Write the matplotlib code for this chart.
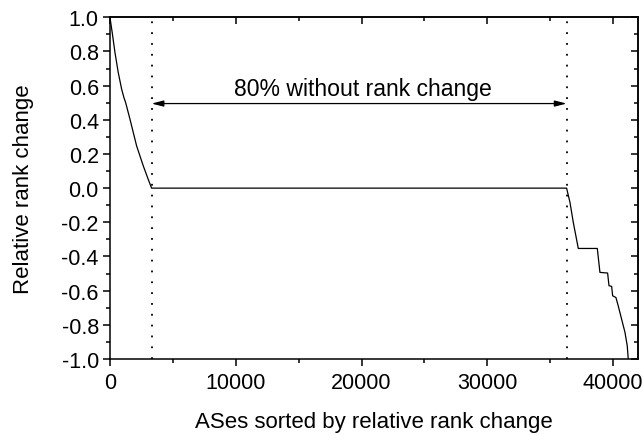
import numpy as np
import matplotlib
matplotlib.use("Agg")
import matplotlib.pyplot as plt
from matplotlib.ticker import MultipleLocator, FormatStrFormatter

plt.rcParams["font.family"] = ["Liberation Sans", "DejaVu Sans"]
plt.rcParams["axes.unicode_minus"] = False

# ASes sorted by relative rank change
as_index = [0, 180, 400, 660, 930, 1110, 1250, 1590, 2120, 2650, 3000, 3310,
            36300, 36570, 36830, 37230, 38740, 38950, 39560, 39670, 39880,
            39960, 40220, 40400, 40670, 40940, 41120, 41200]
rank_change = [1.0, 0.91, 0.793, 0.676, 0.579, 0.53, 0.50, 0.404, 0.247, 0.13, 0.06, 0.0,
               0.0, -0.084, -0.20, -0.353, -0.353, -0.493, -0.497, -0.571, -0.575,
               -0.63, -0.64, -0.688, -0.766, -0.844, -0.922, -1.0]

# boundaries of the "no rank change" region
no_change_start = 3310
no_change_end = 36300
arrow_y = 0.495
label_text = "80% without rank change"

fig = plt.figure(figsize=(6.43, 4.35), dpi=100)
ax = fig.add_axes([0.171, 0.1724, 0.8217, 0.7856])

ax.plot(as_index, rank_change, color="black", linewidth=0.9)

for xv in [no_change_start, no_change_end]:
    ax.plot([xv, xv], [-1.0, 1.0], color="black", linewidth=1.3,
            linestyle=(0, (1, 5)))

ax.annotate("", xy=(no_change_start, arrow_y), xytext=(no_change_end, arrow_y),
            arrowprops=dict(arrowstyle="<|-|>,head_length=0.7,head_width=0.18",
                            color="black", lw=0.9, shrinkA=0, shrinkB=0))
ax.text((no_change_start + no_change_end) / 2 + 300, arrow_y + 0.02, label_text,
        ha="center", va="bottom", fontsize=16.6)

ax.set_xlim(0, 42000)
ax.set_ylim(-1.0, 1.0)
ax.xaxis.set_major_locator(MultipleLocator(10000))
ax.xaxis.set_minor_locator(MultipleLocator(5000))
ax.yaxis.set_major_locator(MultipleLocator(0.2))
ax.yaxis.set_minor_locator(MultipleLocator(0.1))
ax.yaxis.set_major_formatter(FormatStrFormatter("%.1f"))

for sp in ax.spines.values():
    sp.set_linewidth(1.1)
ax.tick_params(which="major", direction="out", length=5, width=1.1, labelsize=15.5, pad=3)
ax.tick_params(axis="x", which="major", pad=4.5)
ax.tick_params(which="minor", direction="out", length=3, width=1.1)

# mirrored ticks on top and right point inward
top = ax.secondary_xaxis("top")
top.xaxis.set_major_locator(MultipleLocator(10000))
top.xaxis.set_minor_locator(MultipleLocator(5000))
top.tick_params(which="major", direction="in", length=5, width=1.1, labeltop=False)
top.tick_params(which="minor", direction="in", length=3, width=1.1)
top.spines["top"].set_linewidth(1.1)
right = ax.secondary_yaxis("right")
right.yaxis.set_major_locator(MultipleLocator(0.2))
right.yaxis.set_minor_locator(MultipleLocator(0.1))
right.tick_params(which="major", direction="in", length=5, width=1.1, labelright=False)
right.tick_params(which="minor", direction="in", length=3, width=1.1)
right.spines["right"].set_linewidth(1.1)

ax.set_xlabel("ASes sorted by relative rank change", fontsize=16, labelpad=13)
ax.set_ylabel("Relative rank change", fontsize=16, labelpad=20)

fig.savefig("out.png", dpi=100)
